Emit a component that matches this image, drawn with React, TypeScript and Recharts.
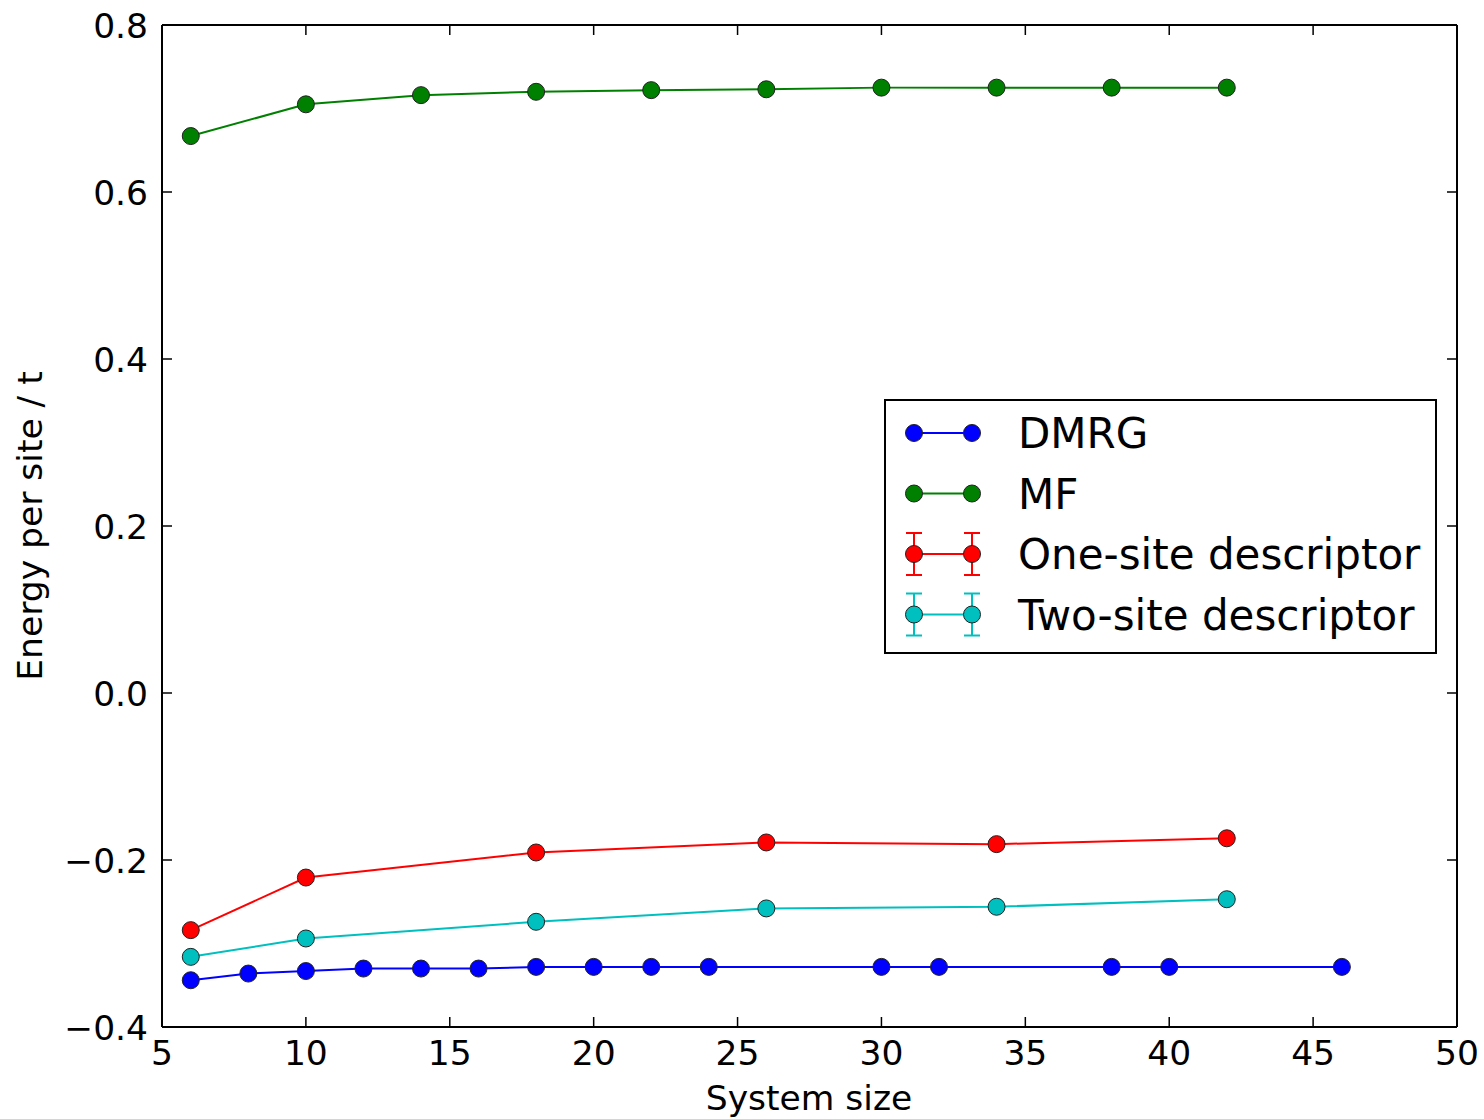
import { ComposedChart, Line, XAxis, YAxis } from 'recharts';

// system sizes and energies per site
const dmrgSizes = [6, 8, 10, 12, 14, 16, 18, 20, 22, 24, 30, 32, 38, 40, 46];
const dmrgEnergy = [-0.344, -0.336, -0.333, -0.330, -0.330, -0.330, -0.328, -0.328, -0.328, -0.328, -0.328, -0.328, -0.328, -0.328, -0.328];

const mfSizes = [6, 10, 14, 18, 22, 26, 30, 34, 38, 42];
const mfEnergy = [0.667, 0.705, 0.716, 0.720, 0.722, 0.723, 0.725, 0.725, 0.725, 0.725];

const descSizes = [6, 10, 18, 26, 34, 42];
const oneSiteEnergy = [-0.284, -0.221, -0.191, -0.179, -0.181, -0.174];
const twoSiteEnergy = [-0.316, -0.294, -0.274, -0.258, -0.256, -0.247];

const xTicks = [5, 10, 15, 20, 25, 30, 35, 40, 45, 50];
const yTicks = [-0.4, -0.2, 0.0, 0.2, 0.4, 0.6, 0.8];

const toPoints = (xs: number[], ys: number[]) => xs.map((x, i) => ({ x, y: ys[i] }));

const series = [
  { name: 'DMRG', color: '#0000ff', data: toPoints(dmrgSizes, dmrgEnergy), errBar: false },
  { name: 'MF', color: '#008000', data: toPoints(mfSizes, mfEnergy), errBar: false },
  { name: 'One-site descriptor', color: '#ff0000', data: toPoints(descSizes, oneSiteEnergy), errBar: true },
  { name: 'Two-site descriptor', color: '#00bfbf', data: toPoints(descSizes, twoSiteEnergy), errBar: true },
];

const FONT = 'DejaVu Sans, Verdana, sans-serif';
const TICK_FONT = 34.5;
const TICK_LEN = 10;

const fmtY = (v: number) => v.toFixed(1).replace('-', '\u2212');

const BottomTick = ({ x, y, payload }: any) => (
  <g>
    <line x1={x} x2={x} y1={y} y2={y - TICK_LEN} stroke="#000" strokeWidth={1.5} />
    <text x={x} y={y + 38} textAnchor="middle" fontSize={TICK_FONT} fontFamily={FONT} fill="#000">
      {payload.value}
    </text>
  </g>
);

const TopTick = ({ x, y }: any) => (
  <line x1={x} x2={x} y1={y} y2={y + TICK_LEN} stroke="#000" strokeWidth={1.5} />
);

const LeftTick = ({ x, y, payload }: any) => (
  <g>
    <line x1={x} x2={x + TICK_LEN} y1={y} y2={y} stroke="#000" strokeWidth={1.5} />
    <text x={x - 14} y={y + 12.5} textAnchor="end" fontSize={TICK_FONT} fontFamily={FONT} fill="#000">
      {fmtY(payload.value)}
    </text>
  </g>
);

const RightTick = ({ x, y }: any) => (
  <line x1={x} x2={x - TICK_LEN} y1={y} y2={y} stroke="#000" strokeWidth={1.5} />
);

const LegendBox = () => {
  const rowH = 60.5;
  return (
    <svg width={553} height={255} style={{ display: 'block' }}>
      <rect x={1} y={1} width={551} height={253} fill="#fff" stroke="#000" strokeWidth={2} />
      {series.map((s, i) => {
        const cy = 34 + i * rowH;
        return (
          <g key={s.name}>
            <line x1={30} x2={88} y1={cy} y2={cy} stroke={s.color} strokeWidth={2} />
            {[30, 88].map((cx) => (
              <g key={cx}>
                {s.errBar && (
                  <g stroke={s.color} strokeWidth={2}>
                    <line x1={cx} x2={cx} y1={cy - 21} y2={cy + 21} />
                    <line x1={cx - 8} x2={cx + 8} y1={cy - 21} y2={cy - 21} />
                    <line x1={cx - 8} x2={cx + 8} y1={cy + 21} y2={cy + 21} />
                  </g>
                )}
                <circle cx={cx} cy={cy} r={8.5} fill={s.color} stroke="#222" strokeWidth={1} />
              </g>
            ))}
            <text x={134} y={cy + 15} fontSize={42} fontFamily={FONT} fill="#000">
              {s.name}
            </text>
          </g>
        );
      })}
    </svg>
  );
};

export default function App() {
  return (
    <div style={{ position: 'absolute', left: 0, top: 0, width: 1484, height: 1119, background: '#fff' }}>
      <ComposedChart width={1484} height={1119} margin={{ top: 24, right: 26, bottom: 0, left: 0 }}>
        <XAxis
          xAxisId="b"
          dataKey="x"
          type="number"
          domain={[5, 50]}
          ticks={xTicks}
          orientation="bottom"
          height={92}
          tickSize={0}
          tickMargin={0}
          tickLine={false}
          axisLine={{ stroke: '#000', strokeWidth: 2 }}
          tick={<BottomTick />}
          interval={0}
          allowDataOverflow
          label={{
            content: () => (
              <text x={809} y={1110} textAnchor="middle" fontSize={TICK_FONT} fontFamily={FONT} fill="#000">
                System size
              </text>
            ),
          }}
        />
        <XAxis
          xAxisId="t"
          dataKey="x"
          type="number"
          domain={[5, 50]}
          ticks={xTicks}
          orientation="top"
          height={1}
          tickSize={0}
          tickMargin={0}
          tickLine={false}
          axisLine={{ stroke: '#000', strokeWidth: 2 }}
          tick={<TopTick />}
          interval={0}
          allowDataOverflow
        />
        <YAxis
          yAxisId="l"
          type="number"
          domain={[-0.4, 0.8]}
          ticks={yTicks}
          orientation="left"
          width={162}
          tickSize={0}
          tickMargin={0}
          tickLine={false}
          axisLine={{ stroke: '#000', strokeWidth: 2 }}
          tick={<LeftTick />}
          interval={0}
          allowDataOverflow
          label={{
            content: () => (
              <text
                x={42}
                y={526}
                transform="rotate(-90 42 526)"
                textAnchor="middle"
                fontSize={TICK_FONT}
                fontFamily={FONT}
                fill="#000"
              >
                Energy per site / t
              </text>
            ),
          }}
        />
        <YAxis
          yAxisId="r"
          type="number"
          domain={[-0.4, 0.8]}
          ticks={yTicks}
          orientation="right"
          width={1}
          tickSize={0}
          tickMargin={0}
          tickLine={false}
          axisLine={{ stroke: '#000', strokeWidth: 2 }}
          tick={<RightTick />}
          interval={0}
          allowDataOverflow
        />
        {/* invisible series so the top and right frame axes get drawn */}
        <Line
          xAxisId="t"
          yAxisId="r"
          data={series[0].data}
          dataKey="y"
          stroke="none"
          dot={false}
          activeDot={false}
          legendType="none"
          isAnimationActive={false}
        />
        {series.map((s) => (
          <Line
            key={s.name}
            xAxisId="b"
            yAxisId="l"
            data={s.data}
            dataKey="y"
            name={s.name}
            type="linear"
            stroke={s.color}
            strokeWidth={2}
            dot={{ r: 8.5, fill: s.color, stroke: '#222', strokeWidth: 1 }}
            activeDot={false}
            isAnimationActive={false}
          />
        ))}
      </ComposedChart>
      <div style={{ position: 'absolute', left: 884, top: 399 }}>
        <LegendBox />
      </div>
    </div>
  );
}
